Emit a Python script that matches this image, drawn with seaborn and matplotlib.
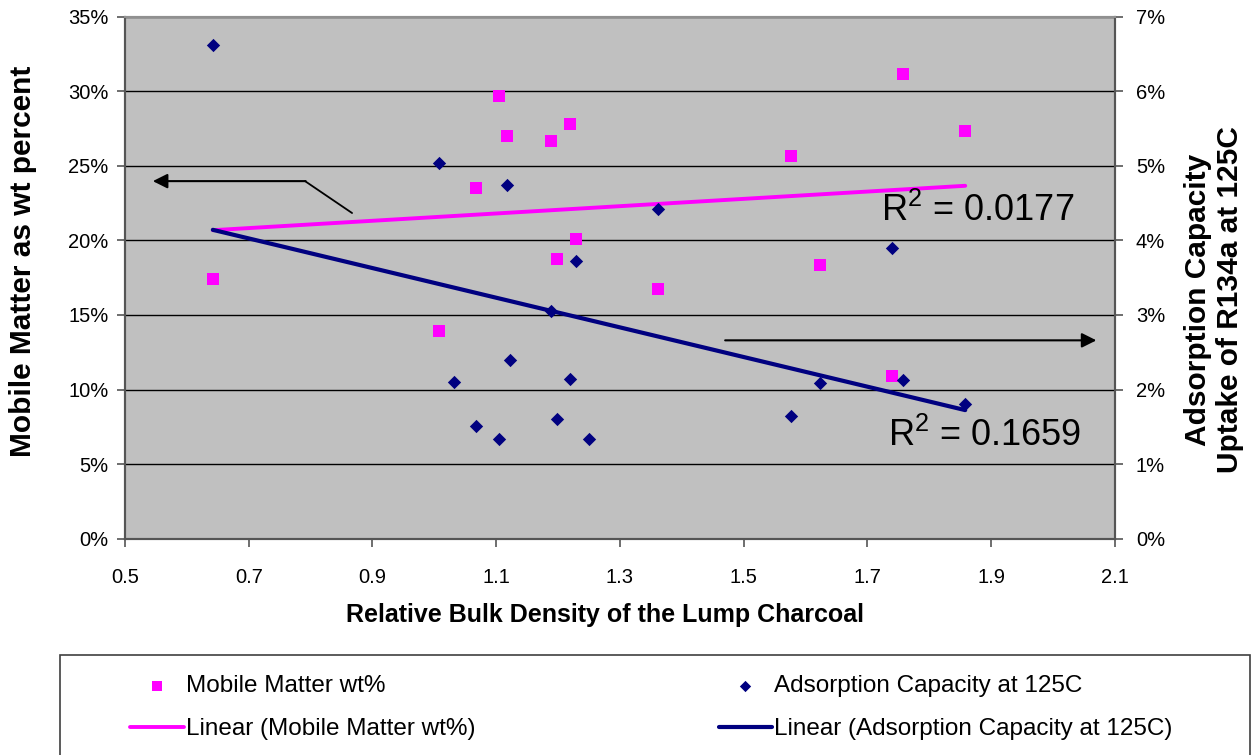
import matplotlib
matplotlib.use('Agg')
import matplotlib.pyplot as plt
import matplotlib.patches as mpatches
from matplotlib.ticker import PercentFormatter, MultipleLocator, FormatStrFormatter
import seaborn as sns
import pandas as pd

# Mobile matter (left axis, wt %)
mobile_density = [0.642, 1.007, 1.068, 1.105, 1.117, 1.188, 1.199, 1.220,
                  1.229, 1.362, 1.577, 1.623, 1.740, 1.758, 1.858]
mobile_pct = [17.39, 13.90, 23.52, 29.66, 27.00, 26.69, 18.76, 27.79,
              20.07, 16.77, 25.66, 18.35, 10.93, 31.17, 27.31]

# Adsorption capacity (right axis, %)
adsorb_density = [0.642, 1.007, 1.032, 1.068, 1.105, 1.117, 1.123, 1.188, 1.199,
                  1.220, 1.229, 1.250, 1.362, 1.577, 1.623, 1.740, 1.758, 1.858]
adsorb_pct = [6.62, 5.04, 2.10, 1.51, 1.34, 4.74, 2.40, 3.06, 1.60,
              2.14, 3.73, 1.34, 4.42, 1.65, 2.09, 3.90, 2.13, 1.80]

x_ticks = [0.5, 0.7, 0.9, 1.1, 1.3, 1.5, 1.7, 1.9, 2.1]

r2_mobile = "R$^2$ = 0.0177"
r2_adsorb = "R$^2$ = 0.1659"

mobile = pd.DataFrame({'density': mobile_density, 'pct': mobile_pct})
adsorb = pd.DataFrame({'density': adsorb_density, 'pct': adsorb_pct})

sns.set_style('white')
plt.rcParams['font.family'] = ['Liberation Sans', 'DejaVu Sans']
plt.rcParams['mathtext.fontset'] = 'custom'
plt.rcParams['mathtext.rm'] = 'Liberation Sans'
plt.rcParams['mathtext.it'] = 'Liberation Sans'
plt.rcParams['mathtext.default'] = 'regular'
plt.rcParams['text.color'] = 'black'
plt.rcParams['axes.labelcolor'] = 'black'
plt.rcParams['xtick.color'] = 'black'
plt.rcParams['ytick.color'] = 'black'

PINK = '#FF00FF'
NAVY = '#000080'

fig = plt.figure(figsize=(12.55, 7.55), dpi=100)
ax = fig.add_axes([0.0996, 0.2866, 0.7888, 0.6911])
ax2 = ax.twinx()

ax.set_facecolor('#C0C0C0')
ax2.patch.set_visible(False)

# -----------------------------------------------
# trendlines + points
# -----------------------------------------------
sns.regplot(data=mobile, x='density', y='pct', ax=ax, scatter=False, ci=None,
            truncate=True, color=PINK, line_kws={'lw': 2.8, 'zorder': 3})
pink_line = ax.lines[-1]
pink_line.set_label('Linear (Mobile Matter wt%)')

sns.regplot(data=adsorb, x='density', y='pct', ax=ax2, scatter=False, ci=None,
            truncate=True, color=NAVY, line_kws={'lw': 3.0, 'zorder': 2})
navy_line = ax2.lines[-1]
navy_line.set_label('Linear (Adsorption Capacity at 125C)')

sns.scatterplot(data=mobile, x='density', y='pct', ax=ax, marker='s', s=80,
                color=PINK, edgecolor=PINK, linewidth=0, zorder=4, legend=False)
pink_pts = ax.collections[-1]
sns.scatterplot(data=adsorb, x='density', y='pct', ax=ax2, marker='D', s=46,
                color=NAVY, edgecolor=NAVY, linewidth=0, zorder=3, legend=False)
navy_pts = ax2.collections[-1]

# -----------------------------------------------
# axes
# -----------------------------------------------
ax.set_xlim(0.5, 2.1)
ax.set_ylim(0, 35)
ax2.set_ylim(0, 7)
ax.set_xticks(x_ticks)
ax.xaxis.set_major_formatter(FormatStrFormatter('%.1f'))
ax.yaxis.set_major_locator(MultipleLocator(5))
ax2.yaxis.set_major_locator(MultipleLocator(1))
ax.yaxis.set_major_formatter(PercentFormatter(decimals=0))
ax2.yaxis.set_major_formatter(PercentFormatter(decimals=0))

ax.yaxis.grid(True, color='black', lw=1.0)
ax.xaxis.grid(False)
ax.set_axisbelow(True)

for a in (ax, ax2):
    for side in ('left', 'right', 'bottom'):
        a.spines[side].set_color('#555555')
        a.spines[side].set_linewidth(1.5)
    a.spines['top'].set_color('#909090')
    a.spines['top'].set_linewidth(1.5)
ax.tick_params(axis='both', direction='out', length=6, width=1.2, color='#555555',
               labelsize=14.5, pad=6)
ax.tick_params(axis='y', left=True)
ax.tick_params(axis='x', bottom=True, pad=15)
ax2.tick_params(axis='y', direction='out', length=6, width=1.2, color='#555555',
                labelsize=14.5, pad=9, right=True)

ax.set_xlabel('Relative Bulk Density of the Lump Charcoal', fontsize=18,
              fontweight='bold')
ax.xaxis.set_label_coords(0.485, -0.146)
ax.xaxis.label.set_va('center')
ax.set_ylabel('Mobile Matter as wt percent', fontsize=21.5, fontweight='bold')
ax2.set_ylabel('Adsorption Capacity\nUptake of R134a at 125C', fontsize=21.5,
               fontweight='bold', rotation=90, linespacing=1.2)
ax.yaxis.label.set_va('center')
ax2.yaxis.label.set_va('center')
ax.yaxis.set_label_coords(-0.103, 0.532)
ax2.yaxis.set_label_coords(1.1, 0.458)

# -----------------------------------------------
# R^2 labels and pointer arrows
# -----------------------------------------------
ax.text(1.722, 22.0, r2_mobile, fontsize=26, va='center', ha='left', zorder=6)
ax.text(1.733, 6.9, r2_adsorb, fontsize=26, va='center', ha='left', zorder=6)

ax.plot([0.867, 0.791], [21.84, 23.98], color='black', lw=1.3, zorder=6)
ax.annotate('', xy=(0.545, 23.98), xytext=(0.792, 23.98),
            arrowprops=dict(arrowstyle='-|>', color='black', lw=1.5,
                            mutation_scale=22, shrinkA=0, shrinkB=0), zorder=6)
ax2.annotate('', xy=(2.07, 2.66), xytext=(1.47, 2.66),
             arrowprops=dict(arrowstyle='-|>', color='black', lw=1.5,
                             mutation_scale=22, shrinkA=0, shrinkB=0), zorder=6)

# -----------------------------------------------
# legend in a box under the chart
# -----------------------------------------------
fig.patches.append(mpatches.Rectangle((0.0478, -0.05), 0.948, 0.1825,
                                      transform=fig.transFigure, fill=False,
                                      edgecolor='#404040', lw=1.2))
handles = [pink_pts, pink_line, navy_pts, navy_line]
labels = ['Mobile Matter wt%', 'Linear (Mobile Matter wt%)',
          'Adsorption Capacity at 125C', 'Linear (Adsorption Capacity at 125C)']
fig.legend(handles, labels, ncol=2, frameon=False,
           loc='upper left', bbox_to_anchor=(0.094, 0.122), fontsize=17.5,
           handlelength=2.2, handletextpad=0.1, columnspacing=10.0,
           labelspacing=0.88, borderpad=0, markerscale=0.85)

plt.savefig('out.png', dpi=100)
print("Saved: out.png")
